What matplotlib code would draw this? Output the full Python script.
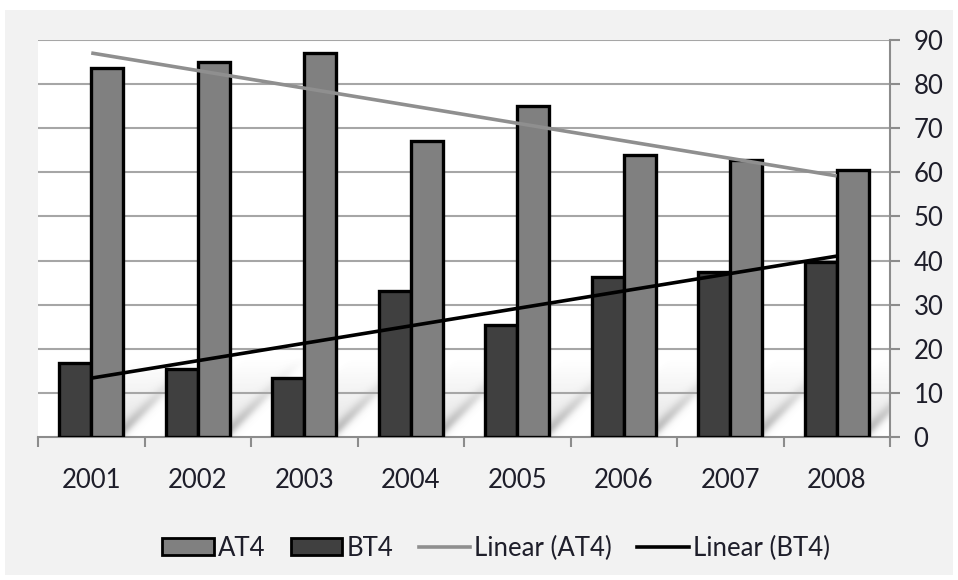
import numpy as np
import matplotlib
matplotlib.use('Agg')
import matplotlib.pyplot as plt
from matplotlib.patches import Rectangle, Patch
from matplotlib.lines import Line2D

plt.rcParams['font.family'] = ['Lato', 'DejaVu Sans']

years = ['2001', '2002', '2003', '2004', '2005', '2006', '2007', '2008']
at4 = [83.7, 85.0, 87.0, 67.0, 75.0, 64.0, 62.8, 60.5]
bt4 = [16.7, 15.5, 13.3, 33.0, 25.5, 36.3, 37.4, 39.7]
yticks = list(range(0, 100, 10))

W, H = 958, 580
fig = plt.figure(figsize=(W / 100, H / 100), dpi=100)
fig.patch.set_facecolor('white')
fig.patches.append(Rectangle((5 / W, 5 / H), 948 / W, 565 / H, transform=fig.transFigure,
                             facecolor='#f2f2f2', edgecolor='none', zorder=-10))

ax = fig.add_axes([38 / W, 1 - 437 / H, (890 - 38) / W, (437 - 40) / H])
ax.set_facecolor('white')

x = np.arange(len(years))
bw = 0.3

# soft diagonal shadows behind the bar pairs
nx, ny = 1600, 400
gx = np.linspace(-0.5, 7.5, nx)
gy = np.linspace(0, 30, ny)
GX, GY = np.meshgrid(gx, gy)
k = (397 / 90) / (852 / 8)  # 45 degrees in pixels
X0 = GX - k * GY
alpha = np.zeros_like(GX)
for i in range(len(years)):
    left, right = i - bw, i + bw
    inside = 1 / (1 + np.exp(-(X0 - left) / 0.02)) * 1 / (1 + np.exp((X0 - right) / 0.03))
    edge = np.exp(-((X0 - (right - 0.06)) / 0.08) ** 2)
    alpha = np.maximum(alpha, 0.18 * inside + 0.32 * edge * inside)
fade = np.clip(1 - GY / 18, 0, 1) ** 1.1
alpha = alpha * fade
rgba = np.zeros(GX.shape + (4,))
rgba[..., :3] = 0.35
rgba[..., 3] = alpha
ax.imshow(rgba, extent=(-0.5, 7.5, 0, 30), origin='lower', aspect='auto',
          interpolation='bilinear', zorder=0.6)
ax.set_xlim(-0.5, 7.5)
ax.set_ylim(0, 90)

for v in yticks[1:]:
    ax.axhline(v, color='#a6a6a6', lw=1.5, zorder=1)

ax.bar(x - bw / 2, bt4, bw, color='#404040', edgecolor='black', linewidth=2.4, zorder=3)
ax.bar(x + bw / 2, at4, bw, color='#808080', edgecolor='black', linewidth=2.4, zorder=3)

ends = x[[0, -1]]
ca = np.polyfit(x, at4, 1)
cb = np.polyfit(x, bt4, 1)
ax.plot(ends, np.polyval(ca, ends), color='#8f8f8f', lw=2.6, zorder=4, solid_capstyle='butt')
ax.plot(ends, np.polyval(cb, ends), color='black', lw=2.6, zorder=4, solid_capstyle='butt')

for s in ['top', 'left']:
    ax.spines[s].set_visible(False)
for s in ['bottom', 'right']:
    ax.spines[s].set_color('#8c8c8c')
    ax.spines[s].set_linewidth(1.5)

fs = 18.5
ax.yaxis.tick_right()
ax.set_yticks(yticks)
ax.tick_params(axis='y', which='major', direction='out', length=7, width=1.5, color='#8c8c8c',
               labelsize=fs, labelcolor='#1e1e2a', pad=10)
ax.set_xticks(x)
ax.set_xticklabels(years)
ax.set_xticks(np.arange(-0.5, 8, 1), minor=True)
ax.tick_params(axis='x', which='major', length=0, labelsize=fs, labelcolor='#1e1e2a', pad=22)
ax.tick_params(axis='x', which='minor', direction='out', length=7, width=1.5, color='#8c8c8c')

handles = [Patch(facecolor='#808080', edgecolor='black', linewidth=2.0, label='AT4'),
           Patch(facecolor='#404040', edgecolor='black', linewidth=2.0, label='BT4'),
           Line2D([], [], color='#8f8f8f', lw=2.6, label='Linear (AT4)'),
           Line2D([], [], color='black', lw=2.6, label='Linear (BT4)')]
leg = fig.legend(handles=handles, loc='center', bbox_to_anchor=(496 / W, 1 - 548 / H), ncol=4,
                 frameon=False, fontsize=fs, handlelength=2.0, handleheight=0.62,
                 handletextpad=0.15, columnspacing=1.0, borderaxespad=0, borderpad=0)
for t in leg.get_texts():
    t.set_color('#1e1e2a')

fig.savefig('out.png', dpi=100, facecolor=fig.get_facecolor())
